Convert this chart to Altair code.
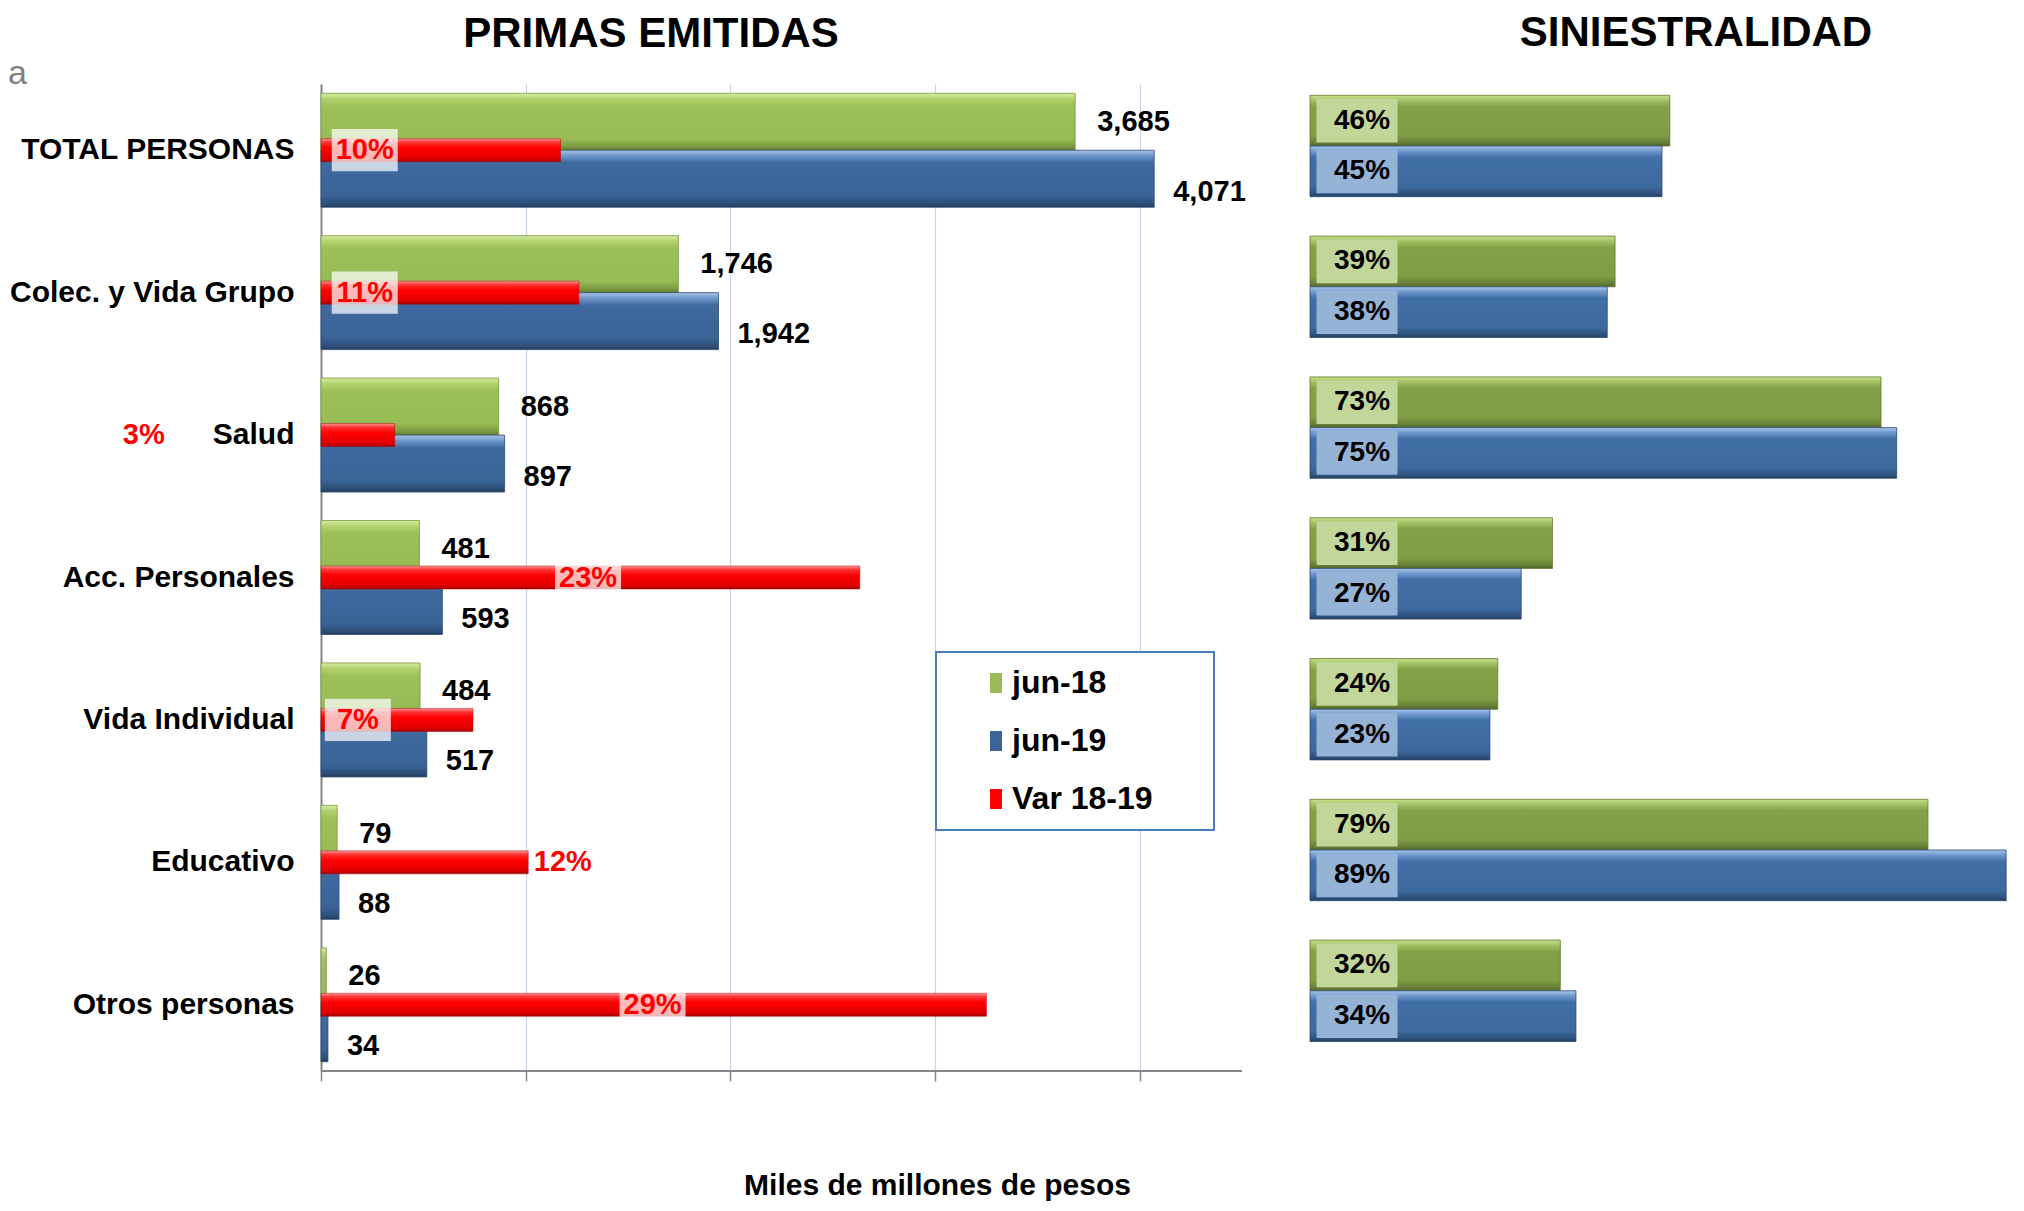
import altair as alt
import pandas as pd

# ---------------- data ----------------
categories = ["TOTAL PERSONAS", "Colec. y Vida Grupo", "Salud", "Acc. Personales",
              "Vida Individual", "Educativo", "Otros personas"]
jun18 = [3685, 1746, 868, 481, 484, 79, 26]
jun19 = [4071, 1942, 897, 593, 517, 88, 34]
var_bar = [0.104, 0.112, 0.032, 0.234, 0.066, 0.090, 0.289]
var_label = ["10%", "11%", "3%", "23%", "7%", "12%", "29%"]
var_label_at = [0.019, 0.019, -0.077, 0.116, 0.016, 0.105, 0.144]
sin18 = [0.46, 0.39, 0.73, 0.31, 0.24, 0.79, 0.32]
sin19 = [0.45, 0.38, 0.75, 0.27, 0.23, 0.89, 0.34]
series_names = ["jun-18", "jun-19", "Var 18-19"]

# ---------------- layout ----------------
FONT = "Liberation Sans"
W = 1693
H = 987
LEFT_W = 921
LEFT_MAX = 4500
VAR_MAX = 0.40
RIGHT_X0 = 989
SIN_MAX = 0.9

xl_domain = [0, LEFT_MAX * W / LEFT_W]
xr_domain = [0, VAR_MAX * W / LEFT_W]
k = (W - RIGHT_X0) / SIN_MAX
xs_domain = [-RIGHT_X0 / k, SIN_MAX]

primas = pd.DataFrame({
    "cat": categories * 2,
    "series": ["jun-18"] * len(categories) + ["jun-19"] * len(categories),
    "value": jun18 + jun19,
})
primas["label"] = primas["value"].map(lambda v: f"{v:,}")
var = pd.DataFrame({"cat": categories, "var": var_bar, "label": var_label, "at": var_label_at})
sin = pd.DataFrame({
    "cat": categories * 2,
    "series": ["jun-18"] * len(categories) + ["jun-19"] * len(categories),
    "value": sin18 + sin19,
})
sin["label"] = sin["value"].map(lambda v: f"{round(v * 100)}%")


def grad(stops):
    return {"gradient": "linear", "x1": 0, "x2": 0, "y1": 0, "y2": 1,
            "stops": [{"offset": o, "color": c} for o, c in stops]}


G_GREEN = grad([(0, "#d6eca2"), (0.1, "#b3d26e"), (0.22, "#9dc15a"), (0.8, "#97bb55"),
                (0.94, "#7a9940"), (1, "#5f7a2e")])
G_BLUE = grad([(0, "#a9c5e8"), (0.1, "#6e96cb"), (0.22, "#3f6aa0"), (0.8, "#3a6396"),
               (0.94, "#2d4e78"), (1, "#223c5e")])
G_RED = grad([(0, "#ff9e9e"), (0.15, "#ff3434"), (0.4, "#ff0000"), (0.85, "#e20000"),
              (1, "#a00000")])
G_GREEN_R = grad([(0, "#c8e08c"), (0.1, "#a3c264"), (0.22, "#83a147"), (0.8, "#7f9d44"),
                  (0.94, "#657e35"), (1, "#4e6428")])
G_BLUE_R = grad([(0, "#a9c5e8"), (0.1, "#7099cf"), (0.22, "#4170a6"), (0.8, "#3d6a9e"),
                 (0.94, "#2f527e"), (1, "#243f62")])

BOX_RED = "M-1,-0.64L1,-0.64L1,0.64L-1,0.64Z"
BOX_R = "M-1,-0.54L1,-0.54L1,0.54L-1,0.54Z"
BOX_LEG = "M-0.6,-1L0.6,-1L0.6,1L-0.6,1Z"

# ---------------- scales / axes ----------------
XL_SCALE = alt.Scale(domain=xl_domain, nice=False, zero=False)
XL_AXIS = alt.Axis(values=[0, 1000, 2000, 3000, 4000], labels=False, domain=False,
                   ticks=True, tickColor="#868686", tickWidth=1.5, tickSize=10,
                   grid=True, gridColor="#c5d4ea", gridWidth=1.2,
                   title="Miles de millones de pesos", titleFont=FONT, titleFontSize=30,
                   titleFontWeight="bold", titleColor="black", titleX=616, titleY=114,
                   titleBaseline="middle", titleAlign="center")
XR_SCALE = alt.Scale(domain=xr_domain, nice=False, zero=False)
XS_SCALE = alt.Scale(domain=xs_domain, nice=False, zero=False)

Y_LEFT = alt.Y("cat:N", sort=categories,
               scale=alt.Scale(domain=categories, paddingInner=0.2, paddingOuter=0.065),
               axis=alt.Axis(title=None, labelFont=FONT, labelFontSize=30, labelFontWeight="bold",
                             labelColor="black", labelPadding=27, labelLimit=500, ticks=False,
                             domain=True, domainColor="#868686", domainWidth=2, grid=False))
Y_RIGHT = alt.Y("cat:N", sort=categories,
                scale=alt.Scale(domain=categories, paddingInner=0.28, paddingOuter=0.145, align=0.277),
                axis=None)
YOFF = alt.YOffset("series:N", scale=alt.Scale(domain=["jun-18", "jun-19"], paddingInner=0, paddingOuter=0))


def xl(field):
    return alt.X(field, type="quantitative", scale=XL_SCALE, axis=XL_AXIS)


def one(text):
    return alt.Chart(pd.DataFrame({"t": [text]}))


# ---------------- left panel: PRIMAS EMITIDAS ----------------
axis_line = one("axis").mark_rule(color="#868686", strokeWidth=2).encode(
    x=alt.XDatum(0, type="quantitative", scale=XL_SCALE, axis=XL_AXIS),
    x2=alt.X2Datum(LEFT_MAX),
    y=alt.value(H),
)
green = alt.Chart(primas).transform_filter("datum.series == 'jun-18'").mark_bar(
    fill=G_GREEN, stroke="#7a9640", strokeWidth=0.8
).encode(x=xl("value"), y=Y_LEFT, yOffset=YOFF)
blue = alt.Chart(primas).transform_filter("datum.series == 'jun-19'").mark_bar(
    fill=G_BLUE, stroke="#2b4a72", strokeWidth=0.8
).encode(x=xl("value"), y=Y_LEFT, yOffset=YOFF)
green_lbl = alt.Chart(primas).transform_filter("datum.series == 'jun-18'").mark_text(
    align="left", baseline="middle", dx=22, font=FONT, fontSize=29, fontWeight="bold", color="black"
).encode(x=xl("value"), y=Y_LEFT, yOffset=YOFF, text="label:N")
blue_lbl = alt.Chart(primas).transform_filter("datum.series == 'jun-19'").mark_text(
    align="left", baseline="middle", dx=19, dy=13, font=FONT, fontSize=29, fontWeight="bold", color="black"
).encode(x=xl("value"), y=Y_LEFT, yOffset=YOFF, text="label:N")

a_txt = one("a").mark_text(text="a", align="left", baseline="alphabetic", font=FONT,
                           fontSize=34, color="#808080").encode(x=alt.value(-313), y=alt.value(0))
title_l = one("t").mark_text(text="PRIMAS EMITIDAS", align="center", baseline="alphabetic", font=FONT,
                             fontSize=42, fontWeight="bold", color="black").encode(
    x=alt.value(330), y=alt.value(-37))

legend_layer = alt.Chart(pd.DataFrame({"series": series_names})).transform_filter("false").mark_point(
    shape=BOX_LEG, filled=True, opacity=1, size=400
).encode(color=alt.Color("series:N", scale=alt.Scale(domain=series_names,
                                                    range=["#9bbb59", "#3c6497", "#ff0000"]),
                         legend=alt.Legend(title=None, orient="none", legendX=615, legendY=568,
                                           direction="vertical", strokeColor="#4a7ebb",
                                           fillColor="white", padding=15, labelFont=FONT,
                                           labelFontSize=32, labelFontWeight="bold", labelColor="black",
                                           symbolType=BOX_LEG, symbolSize=400, symbolOffset=29,
                                           labelOffset=0, rowPadding=26, symbolStrokeWidth=0,
                                           labelLimit=600,
                                           labelExpr="datum.label + '\u2800\u2800'")))

L = alt.layer(green, blue, axis_line, green_lbl, blue_lbl, a_txt, title_l, legend_layer)

# red variation bars (own scale)
red_bar = alt.Chart(var).mark_bar(fill=G_RED, size=23, stroke="#b00000", strokeWidth=0.5).encode(
    x=alt.X("var:Q", scale=XR_SCALE, axis=None), y=Y_LEFT)
red_box = alt.Chart(var).transform_filter("datum.at > 0").mark_point(
    shape=BOX_RED, filled=True, fill="white", opacity=0.72, size=4356, strokeWidth=0
).encode(x=alt.X("at:Q", scale=XR_SCALE, axis=None), y=Y_LEFT)
red_txt = alt.Chart(var).mark_text(font=FONT, fontSize=29, fontWeight="bold", color="#ff0000",
                                   align="center", baseline="middle").encode(
    x=alt.X("at:Q", scale=XR_SCALE, axis=None), y=Y_LEFT, text="label:N")
R = alt.layer(red_bar, red_box, red_txt)

LR = alt.layer(L, R).resolve_scale(x="independent")

# ---------------- right panel: SINIESTRALIDAD ----------------
XS0 = alt.XDatum(0, type="quantitative", scale=XS_SCALE, axis=None)
s_green = alt.Chart(sin).transform_filter("datum.series == 'jun-18'").mark_bar(
    fill=G_GREEN_R, stroke="#5f7a2e", strokeWidth=0.8
).encode(x=alt.X("value:Q", scale=XS_SCALE, axis=None), y=Y_RIGHT, yOffset=YOFF)
s_blue = alt.Chart(sin).transform_filter("datum.series == 'jun-19'").mark_bar(
    fill=G_BLUE_R, stroke="#2b4a72", strokeWidth=0.8
).encode(x=alt.X("value:Q", scale=XS_SCALE, axis=None), y=Y_RIGHT, yOffset=YOFF)
s_gbox = alt.Chart(sin).transform_filter("datum.series == 'jun-18'").mark_point(
    shape=BOX_R, filled=True, fill="#c2d69a", opacity=1, size=6561, strokeWidth=0, xOffset=47
).encode(x=XS0, y=Y_RIGHT, yOffset=YOFF)
s_bbox = alt.Chart(sin).transform_filter("datum.series == 'jun-19'").mark_point(
    shape=BOX_R, filled=True, fill="#95b3d7", opacity=1, size=6561, strokeWidth=0, xOffset=47
).encode(x=XS0, y=Y_RIGHT, yOffset=YOFF)
s_txt = alt.Chart(sin).mark_text(font=FONT, fontSize=28, fontWeight="bold", color="black",
                                 align="center", baseline="middle", dx=52).encode(
    x=XS0, y=Y_RIGHT, yOffset=YOFF, text="label:N")
title_r = one("t").mark_text(text="SINIESTRALIDAD", align="center", baseline="alphabetic", font=FONT,
                             fontSize=42, fontWeight="bold", color="black").encode(
    x=alt.value(1375), y=alt.value(-38))
S = alt.layer(s_green, s_blue, s_gbox, s_bbox, s_txt, title_r)

chart = alt.layer(LR, S).resolve_scale(
    x="independent", y="independent", yOffset="independent"
).properties(
    width=W, height=H,
    autosize=alt.AutoSizeParams(type="none"),
    padding={"left": 313, "top": 76, "right": 0, "bottom": 130},
).configure_view(stroke=None).configure_legend(strokeWidth=2)

chart.save("out.html", embed_options={"renderer": "svg", "actions": False})
